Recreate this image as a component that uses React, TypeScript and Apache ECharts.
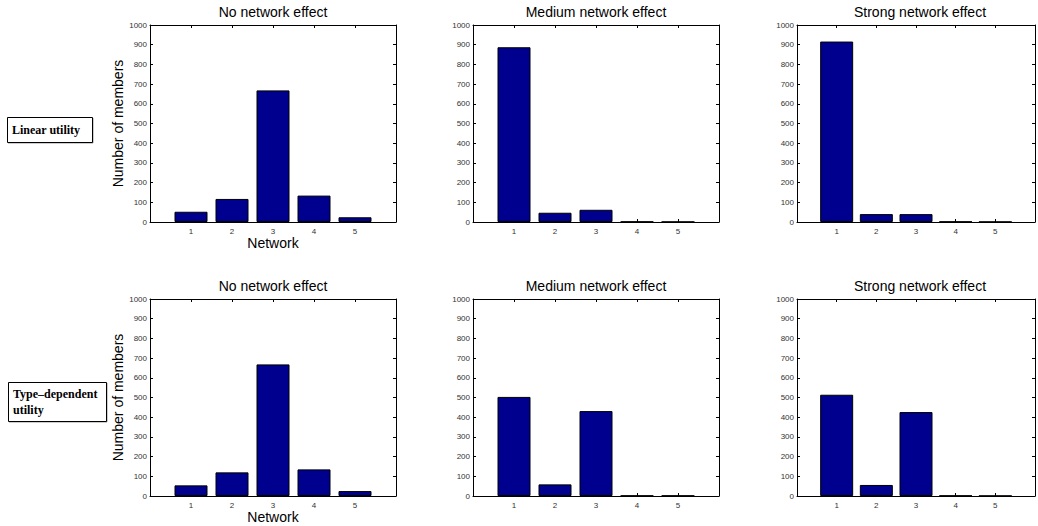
import React, { useEffect, useRef } from "react";
import * as echarts from "echarts";

const networks = [1, 2, 3, 4, 5];
const linearNone = [52, 117, 668, 134, 24];
const linearMedium = [887, 47, 62, 2, 1];
const linearStrong = [916, 40, 40, 2, 1];
const typeNone = [54, 120, 668, 135, 25];
const typeMedium = [503, 59, 431, 2, 2];
const typeStrong = [514, 56, 426, 2, 1];
const columnTitles = ["No network effect", "Medium network effect", "Strong network effect"];
const rowLabels = ["Linear utility", "Type\u2013dependent\nutility"];
const yMin = 0;
const yMax = 1000;
const yStep = 100;
const xMin = 0;
const xMax = 6;

const rows = [
  [linearNone, linearMedium, linearStrong],
  [typeNone, typeMedium, typeStrong],
];

const colLefts = [150, 473, 797];
const rowTops = [25, 299];
const plotW = 246;
const plotH = 197;
const barColor = "#00008F";
const font = "Liberation Sans";

export default function App() {
  const ref = useRef<HTMLDivElement>(null);
  useEffect(() => {
    if (!ref.current) return;
    const chart = echarts.init(ref.current, undefined, { renderer: "svg" });
    const grid: any[] = [];
    const xAxis: any[] = [];
    const yAxis: any[] = [];
    const series: any[] = [];
    const graphic: any[] = [];
    let g = 0;
    rows.forEach((row, r) => {
      row.forEach((vals, c) => {
        grid.push({ left: colLefts[c], top: rowTops[r], width: plotW, height: plotH, containLabel: false });
        const axisLine = { show: true, onZero: false, lineStyle: { color: "#000", width: 1 } };
        const tick = { show: true, inside: true, length: 3, lineStyle: { color: "#000" } };
        xAxis.push({
          type: "value", gridIndex: g, position: "bottom", min: xMin, max: xMax, interval: 1,
          axisLine, axisTick: tick, splitLine: { show: false },
          axisLabel: {
            fontSize: 8, color: "#333", fontFamily: font, margin: 5,
            formatter: (v: number) => (v >= 1 && v <= 5 ? String(v) : ""),
          },
          name: c === 0 ? "Network" : "", nameLocation: "middle", nameGap: 11,
          nameTextStyle: { fontSize: 14, color: "#000", fontFamily: font },
        });
        xAxis.push({
          type: "value", gridIndex: g, position: "top", min: xMin, max: xMax, interval: 1,
          axisLine, axisTick: tick, splitLine: { show: false }, axisLabel: { show: false },
        });
        yAxis.push({
          type: "value", gridIndex: g, position: "left", min: yMin, max: yMax, interval: yStep,
          axisLine, axisTick: tick, splitLine: { show: false },
          axisLabel: { fontSize: 8, color: "#333", fontFamily: font, margin: 3, formatter: (v: number) => String(v) },
          name: c === 0 ? "Number of members" : "", nameLocation: "middle", nameGap: 24,
          nameTextStyle: { fontSize: 14, color: "#000", fontFamily: font },
        });
        yAxis.push({
          type: "value", gridIndex: g, position: "right", min: yMin, max: yMax, interval: yStep,
          axisLine, axisTick: tick, splitLine: { show: false }, axisLabel: { show: false },
        });
        series.push({
          type: "bar", xAxisIndex: 2 * g, yAxisIndex: 2 * g, barWidth: 33,
          data: networks.map((n, i) => [n, vals[i]]),
          itemStyle: { color: barColor, borderColor: "#000", borderWidth: 1 },
        });
        graphic.push({
          type: "text", x: colLefts[c] + plotW / 2, y: rowTops[r] - 13,
          style: { text: columnTitles[c], fontSize: 14, fontFamily: font, fill: "#000", textAlign: "center", textVerticalAlign: "middle" },
        });
        g++;
      });
    });
    // row label boxes
    const boxes = [
      { x: 7, y: 117, w: 85, h: 25 },
      { x: 8, y: 382, w: 98, h: 39 },
    ];
    boxes.forEach((b, i) => {
      graphic.push({ type: "line", shape: { x1: b.x + 1, y1: b.y + b.h + 1, x2: b.x + b.w + 1, y2: b.y + b.h + 1 }, style: { stroke: "#999", lineWidth: 1 } });
      graphic.push({ type: "line", shape: { x1: b.x + b.w + 1, y1: b.y + 1, x2: b.x + b.w + 1, y2: b.y + b.h + 1 }, style: { stroke: "#999", lineWidth: 1 } });
      graphic.push({ type: "rect", shape: { x: b.x + 0.5, y: b.y + 0.5, width: b.w, height: b.h }, style: { fill: "#fff", stroke: "#000", lineWidth: 1 } });
      graphic.push({
        type: "text", x: b.x + 5, y: b.y + b.h / 2,
        style: { text: rowLabels[i], fontSize: 12, fontWeight: "bold", fontFamily: "Liberation Serif", fill: "#000", textVerticalAlign: "middle", lineHeight: 16 },
      });
    });
    chart.setOption({ animation: false, grid, xAxis, yAxis, series, graphic });
    return () => chart.dispose();
  }, []);
  return <div ref={ref} style={{ position: "fixed", left: 0, top: 0, width: 1038, height: 526, background: "#fff" }} />;
}
